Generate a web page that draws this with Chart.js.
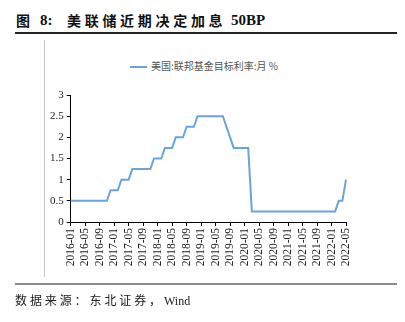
<!DOCTYPE html>
<html lang="zh">
<head>
<meta charset="UTF-8">
<title>美联储近期决定加息 50BP</title>
<script src="https://cdn.jsdelivr.net/npm/chart.js"></script>
<style>
  html, body { margin: 0; padding: 0; background: #fff; }
  body { width: 405px; height: 322px; position: relative; overflow: hidden; }
  #chart { position: absolute; left: 0; top: 0; }
  .title { position: absolute; left: 0; top: 0; width: 405px; height: 32px; color: #111; font-weight: bold; }
  .title span { position: absolute; top: 10px; white-space: nowrap; font-family: "Noto Sans CJK SC", sans-serif; font-size: 14px; line-height: 20px; }
  .title .num { font-family: "Liberation Serif", serif; font-size: 15px; }
  .title .cn { letter-spacing: 3.7px; }
  .rule-top { position: absolute; left: 15px; width: 382px; top: 32px; height: 2px; background: #222; }
  .rule-bottom { position: absolute; left: 15px; width: 382px; top: 283px; height: 2px; background: #8c8c8c; }
  .frame-left { position: absolute; left: 44px; top: 40px; width: 1px; height: 237px; background: #c8c8c8; }
  .legend { position: absolute; left: 130px; top: 58px; white-space: nowrap;
    font-family: "Noto Sans CJK SC", sans-serif; font-size: 10px; color: #555; }
  .legend i { display: inline-block; width: 17px; height: 2px; background: #6aa3de; vertical-align: middle; margin-right: 4px; }
  .source { position: absolute; left: 15px; top: 291px; white-space: nowrap;
    font-family: "Noto Sans CJK SC", sans-serif; font-size: 12px; color: #222; letter-spacing: 2.9px; }
  .source .en { font-family: "Liberation Serif", serif; letter-spacing: 0; }
</style>
</head>
<body>
<div class="title">
  <span style="left:16px">图</span>
  <span class="num" style="left:40px">8:</span>
  <span class="cn" style="left:67px">美联储近期决定加息</span>
  <span class="num" style="left:231px">50BP</span>
</div>
<div class="rule-top"></div>
<div class="frame-left"></div>
<div class="legend"><i></i>美国:联邦基金目标利率:月 %</div>
<canvas id="chart" width="405" height="322"></canvas>
<div class="rule-bottom"></div>
<div class="source">数据来源：东北证券，<span class="en">Wind</span></div>

<script>
  // 月份 2016-01 ~ 2022-05
  const startYear = 2016, monthCount = 77;
  const months = [];
  for (let i = 0; i < monthCount; i++) {
    const y = startYear + Math.floor(i / 12);
    const m = (i % 12) + 1;
    months.push(y + '-' + (m < 10 ? '0' + m : m));
  }

  // 美国:联邦基金目标利率:月 (%)
  const fedRate = [
    0.5, 0.5, 0.5, 0.5, 0.5, 0.5, 0.5, 0.5, 0.5, 0.5, 0.5, 0.75,      // 2016
    0.75, 0.75, 1.0, 1.0, 1.0, 1.25, 1.25, 1.25, 1.25, 1.25, 1.25, 1.5, // 2017
    1.5, 1.5, 1.75, 1.75, 1.75, 2.0, 2.0, 2.0, 2.25, 2.25, 2.25, 2.5,   // 2018
    2.5, 2.5, 2.5, 2.5, 2.5, 2.5, 2.5, 2.25, 2.0, 1.75, 1.75, 1.75,     // 2019
    1.75, 1.75, 0.25, 0.25, 0.25, 0.25, 0.25, 0.25, 0.25, 0.25, 0.25, 0.25, // 2020
    0.25, 0.25, 0.25, 0.25, 0.25, 0.25, 0.25, 0.25, 0.25, 0.25, 0.25, 0.25, // 2021
    0.25, 0.25, 0.5, 0.5, 1.0                                            // 2022
  ];

  const tickEvery = 4;
  const yMin = 0, yMax = 3, yStep = 0.5;

  const serif = "'Liberation Serif', serif";

  function draw() {
    new Chart(document.getElementById('chart'), {
      type: 'line',
      data: {
        labels: months,
        datasets: [{
          label: '美国:联邦基金目标利率:月 %',
          data: fedRate,
          borderColor: '#6aa3de',
          borderWidth: 2,
          pointRadius: 0,
          tension: 0,
          fill: false
        }]
      },
      options: {
        responsive: false,
        animation: false,
        layout: { padding: { top: 95, right: 59, left: 0, bottom: 0 } },
        plugins: { legend: { display: false }, tooltip: { enabled: false } },
        scales: {
          x: {
            offset: false,
            afterFit: s => { s.height = 100; },
            border: { display: true, color: '#000', width: 1 },
            grid: { display: true, drawOnChartArea: false, drawTicks: true, tickLength: 4, color: '#000' },
            ticks: {
              autoSkip: false,
              maxRotation: 90,
              minRotation: 90,
              padding: 2,
              color: '#222',
              font: { family: serif, size: 11.5 },
              callback: function (v, i) { return i % tickEvery === 0 ? this.getLabelForValue(v) : null; }
            }
          },
          y: {
            min: yMin,
            max: yMax,
            afterFit: s => { s.width = 70.7; },
            border: { display: true, color: '#000', width: 1 },
            grid: { display: true, drawOnChartArea: false, drawTicks: true, tickLength: 4, color: '#000' },
            ticks: {
              stepSize: yStep,
              padding: 3,
              color: '#222',
              font: { family: serif, size: 11 },
              callback: v => String(+v.toFixed(2))
            }
          }
        }
      }
    });
  }

  document.fonts.load("11px 'Liberation Serif'").then(draw, draw);
</script>
</body>
</html>
